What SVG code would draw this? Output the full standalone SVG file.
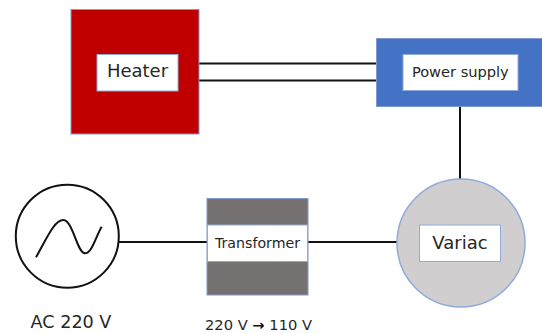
<svg xmlns="http://www.w3.org/2000/svg" width="542" height="333" viewBox="0 0 542 333">
<style>
.wire{stroke:#111;stroke-width:2;fill:none}
.lbl{fill:#fff;stroke:#8EA9DB;stroke-width:1}
.t{font-family:"DejaVu Sans",sans-serif;fill:#262626}
.edge{stroke:#7F9AD0;stroke-width:1}
</style>
<rect width="542" height="333" fill="#fff"/>
<g id="connectors">
<line class="wire" x1="199" y1="63.5" x2="377" y2="63.5"/>
<line class="wire" x1="199" y1="80.5" x2="377" y2="80.5"/>
<line class="wire" x1="460" y1="106" x2="460" y2="180"/>
<line class="wire" x1="118" y1="242" x2="207" y2="242"/>
<line class="wire" x1="308" y1="242" x2="398" y2="242"/>
</g>
<g id="heater">
<rect class="edge" x="71" y="9.5" width="128" height="124.5" fill="#C00000"/>
<rect class="lbl" x="97" y="54.5" width="81" height="36.5"/>
<text class="t" x="137.5" y="77.3" font-size="18" text-anchor="middle">Heater</text>
</g>
<g id="power-supply">
<rect class="edge" x="376.5" y="38.5" width="170" height="68" fill="#4472C4"/>
<rect class="lbl" x="403" y="54.5" width="115" height="36"/>
<text class="t" x="460.3" y="76.7" font-size="14.6" text-anchor="middle">Power supply</text>
</g>
<g id="variac">
<circle cx="461" cy="243" r="64" fill="#D0CECE" stroke="#8FAADC" stroke-width="1.5"/>
<rect class="lbl" x="419.5" y="225" width="81" height="36.5"/>
<text class="t" x="460" y="249.3" font-size="18" text-anchor="middle">Variac</text>
</g>
<g id="transformer">
<rect class="edge" x="207" y="198.5" width="101" height="96.5" fill="#767171"/>
<rect x="207.5" y="225" width="100" height="36.5" fill="#fff" stroke="#8EA9DB" stroke-width="1"/>
<text class="t" x="257.5" y="248.3" font-size="14.2" text-anchor="middle">Transformer</text>
<text class="t" x="205" y="330" font-size="14" textLength="107" lengthAdjust="spacingAndGlyphs">220 V <tspan font-weight="bold" fill="#111">→</tspan> 110 V</text>
</g>
<g id="ac-source">
<circle cx="67.3" cy="236.2" r="51.5" fill="#fff" stroke="#111" stroke-width="2"/>
<path d="M36 257.3 C46 240 54 220 63.3 220 C73 220 77 253.3 85 253.3 C92 253.3 96 236 101.7 226.7" fill="none" stroke="#111" stroke-width="2"/>
<text class="t" x="71" y="328.3" font-size="17.6" text-anchor="middle">AC 220 V</text>
</g>
</svg>
